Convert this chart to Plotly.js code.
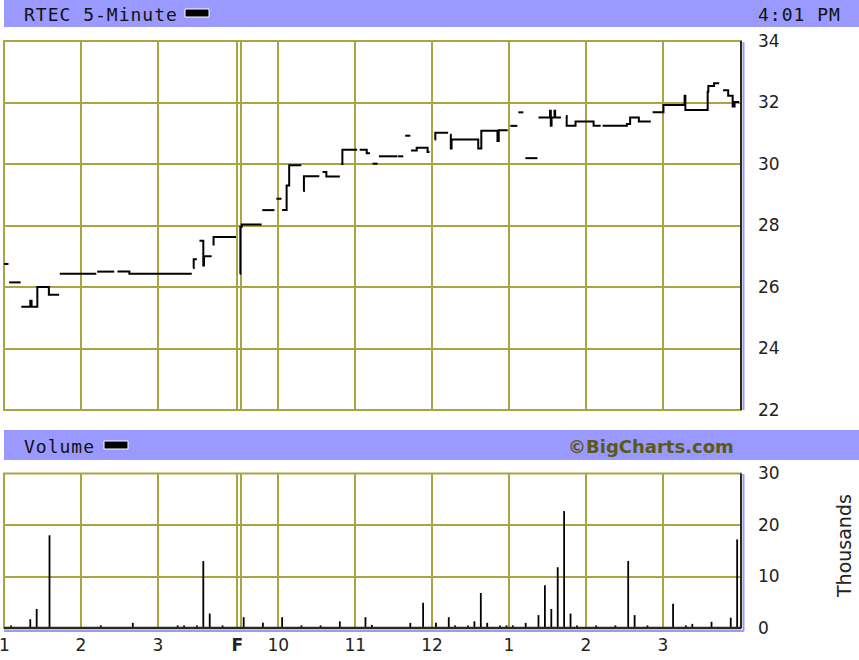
<!DOCTYPE html>
<html><head><meta charset="utf-8">
<script src="https://cdn.plot.ly/plotly-3.0.1.min.js"></script>
<style>
html,body{margin:0;padding:0;background:#fff;}
text[style*="Mono"]{letter-spacing:1px;}
</style></head><body>
<div id="chart" style="width:859px;height:660px;"></div>
<script>
// ---------- data ----------
const symbol = "RTEC";
const interval = "5-Minute";
const lastTime = "4:01 PM";
const volumeTitle = "Volume";
const brand = "©BigCharts.com";
const volUnit = "Thousands";

// session starts on the trading-minute axis (day 1 starts at 1:00 PM, day 2 = Friday 9:30 AM)
const D1 = 0, D2 = 184;
const day1Hours = [0, 60, 120];               // 1, 2, 3 PM
const day1Labels = ["1", "2", "3"];
const dayMarks = [182, 184.6];                // day separator
const dayLabel = "F";
const day2Hours = [30, 90, 150, 210, 270, 330]; // 10 .. 3
const day2Labels = ["10", "11", "12", "1", "2", "3"];

// price steps: minutes after session start, price (null = break)
const p1Time = [0,3.5,null, 4,13,null, 13.5,20.5,21.5,26,35,43,null, 43.5,72,null, 72.7,86,null,
  88.5,97.8,146.5,null, 147.5,148,150.5,null, 152.5,155.5,156,162,null, 162.7,163.5,181];
const p1Price = [26.75,26.75,null, 26.15,26.15,null, 25.36,25.55,25.36,26.0,25.75,25.75,null, 26.43,26.43,null, 26.5,26.5,null,
  26.5,26.43,26.43,null, 26.62,26.9,26.9,null, 27.5,26.7,27.0,27.0,null, 27.38,27.63,27.63];

const p2Time = [0,0.4,1.5,17,null, 17.5,27,null, 28.5,32.5,null, 33,36.5,38.5,48,null, 49.5,50,62,null,
  64.5,67.5,78,null, 79,80,91.5,null, 93.5,99,101.5,null, 103.5,107.5,null, 108.5,123,null, 123.5,127.5,null,
  129,133,null, 133.6,138,146.5,148,null, 152,152.5,162.5,null, 164,164.6,165.2,186,188.4,201,202,209,null,
  211,216.5,null, 217.3,221.2,null, 222.8,232.2,null, 233,242,242.6,243.2,245.5,246,250.5,null,
  254.5,255,260.5,261.9,275.2,276,281.5,null, 283,301,302,304.5,311.3,320.6,null,
  322,330.5,347,347.6,365,365.5,370,374,null, 377,381,384.5,386,389.5];
const p2Price = [26.43,27.96,28.03,28.03,null, 28.5,28.5,null, 28.87,28.87,null, 28.5,29.3,29.96,29.96,null, 29.12,29.6,29.6,null,
  29.74,29.59,29.59,null, 30.0,30.46,30.46,null, 30.46,30.35,30.35,null, 30.01,30.01,null, 30.25,30.25,null, 30.25,30.25,null,
  30.92,30.92,null, 30.44,30.53,30.39,30.39,null, 30.8,31.02,31.02,null, 30.95,30.5,30.8,30.5,31.08,30.75,31.1,31.1,null,
  31.24,31.24,null, 31.68,31.68,null, 30.19,30.19,null, 31.51,31.73,31.24,31.51,31.73,31.51,31.51,null,
  31.56,31.24,31.24,31.38,31.38,31.24,31.24,null, 31.24,31.24,31.3,31.51,31.38,31.38,null,
  31.68,31.92,32.22,31.76,32.35,32.54,32.63,32.63,null, 32.4,32.22,31.87,32.02,32.02];

// volume per 5-minute bar, thousands
const vol1 = [0,0.5,0,0,1.7,3.7,0,18.0,0,0, 0,0,0,0,0,0.5,0,0,0,0,
  1.0,0,0,0,0,0,0,0.5,0.5,0, 0.5,13.0,2.8,0,0.5,0];
const vol2 = [2.1,0,0,1.0,0,0,2.1,0,0,0.5, 0,0,0.5,0,0,1.3,0,0,0,2.1,
  0.6,0,0,0,0,0,1.0,0,4.9,0, 1.0,0,2.1,0.5,0,0.5,1.3,6.8,1.0,0,
  0.5,0.5,0.5,0,1.0,0,2.5,8.3,3.7,11.8, 22.7,2.8,0.5,0,0,0.5,0,0,0.5,0,
  13.0,2.5,0,0.5,0,0,0,4.7,0,0.5, 0.8,0,0,1.2,0,0,2.0,17.2];

// ---------- build ----------
const px = [].concat(p1Time.map(t => t === null ? null : D1 + t), [null], p2Time.map(t => t === null ? null : D2 + t));
const py = [].concat(p1Price, [null], p2Price);
const vx = [].concat(vol1.map((v, k) => D1 + 5 * k + 0.5), vol2.map((v, j) => D2 + 5 * j + 3));
const vy = [].concat(vol1, vol2);

const tickvals = [].concat(day1Hours.map(h => D1 + h), dayMarks, day2Hours.map(h => D2 + h));
const ticktext = [].concat(day1Labels, ["<b>" + dayLabel + "</b>", ""], day2Labels);

const L = 4, R = 741, T = 41, B = 628;
const X = p => (p - L) / (R - L);
const Y = p => (B - p) / (B - T);

const OLIVE = "#aaa544", BLUE = "#9999ff", DARK = "#2b2b10";
const mono = "DejaVu Sans Mono";
const sans = "DejaVu Sans";
const TICKFONT = { family: sans, size: 17, color: "#222" };

const xax = {
  range: [0, 575], tickvals: tickvals, ticktext: ticktext, showgrid: true, gridcolor: OLIVE, gridwidth: 2,
  zeroline: false, showline: false, ticks: "", fixedrange: true
};

const traces = [
  { x: px, y: py, type: "scatter", mode: "lines", line: { shape: "hv", color: "#000", width: 2 },
    connectgaps: false, xaxis: "x", yaxis: "y", hoverinfo: "skip" },
  { x: vx, y: vy, type: "bar", width: 1.4, marker: { color: "#000", line: { width: 0 } },
    xaxis: "x2", yaxis: "y2", hoverinfo: "skip" }
];

const layout = {
  width: 859, height: 660,
  margin: { l: L, r: 859 - R, t: T, b: 660 - B, pad: 0 },
  paper_bgcolor: "#fff", plot_bgcolor: "#fff",
  showlegend: false,
  xaxis: Object.assign({}, xax, { anchor: "y", showticklabels: false }),
  xaxis2: Object.assign({}, xax, { anchor: "y2", matches: "x", showticklabels: true,
    tickfont: TICKFONT, ticklabelstandoff: 5 }),
  yaxis: { domain: [Y(410), 1], range: [22, 34], dtick: 2, side: "right", showgrid: true, gridcolor: OLIVE,
    gridwidth: 2, zeroline: false, showline: false, ticks: "", ticklabelstandoff: 16,
    tickfont: TICKFONT, fixedrange: true },
  yaxis2: { domain: [0, Y(473.5)], range: [0, 30], dtick: 10, side: "right", showgrid: true, gridcolor: OLIVE,
    gridwidth: 2, zeroline: false, showline: false, ticks: "", ticklabelstandoff: 16,
    tickfont: TICKFONT, fixedrange: true },
  shapes: [
    // header bars
    { type: "rect", xref: "paper", yref: "paper", x0: X(4), x1: X(859), y0: Y(27), y1: Y(0), fillcolor: BLUE, line: { width: 0 } },
    { type: "rect", xref: "paper", yref: "paper", x0: X(4), x1: X(859), y0: Y(460), y1: Y(430), fillcolor: BLUE, line: { width: 0 } },
    // legend swatches
    { type: "rect", xref: "paper", yref: "paper", x0: X(185), x1: X(209), y0: Y(17), y1: Y(9), fillcolor: "#000", line: { color: "#fff", width: 1 } },
    { type: "rect", xref: "paper", yref: "paper", x0: X(104), x1: X(128), y0: Y(449), y1: Y(441), fillcolor: "#000", line: { color: "#fff", width: 1 } },
    // frames
    { type: "rect", xref: "paper", yref: "y domain", x0: 0, x1: 1, y0: 0, y1: 1, line: { color: OLIVE, width: 2 }, layer: "below" },
    { type: "rect", xref: "paper", yref: "y2 domain", x0: 0, x1: 1, y0: 0, y1: 1, line: { color: OLIVE, width: 2 }, layer: "below" },
    // dark right edges + shadow
    { type: "line", xref: "paper", yref: "y domain", x0: 1, x1: 1, y0: 0, y1: 1, line: { color: DARK, width: 2 } },
    { type: "line", xref: "paper", yref: "y2 domain", x0: 1, x1: 1, y0: 0, y1: 1, line: { color: DARK, width: 2 } },
    { type: "line", xref: "paper", yref: "paper", x0: X(743.5), x1: X(743.5), y0: Y(410), y1: Y(42), line: { color: BLUE, width: 2 } },
    { type: "line", xref: "paper", yref: "paper", x0: X(743.5), x1: X(743.5), y0: Y(631), y1: Y(474), line: { color: BLUE, width: 2 } },
    { type: "line", xref: "paper", yref: "y2 domain", x0: 0, x1: 1, y0: 0, y1: 0, line: { color: DARK, width: 2.5 } },
    { type: "line", xref: "paper", yref: "paper", x0: X(4), x1: X(744), y0: Y(631), y1: Y(631), line: { color: BLUE, width: 2 } }
  ],
  annotations: [
    { xref: "paper", yref: "paper", x: X(22), y: Y(14), xanchor: "left", yanchor: "middle", showarrow: false,
      text: symbol + " " + interval, font: { family: mono, size: 18, color: "#111" } },
    { xref: "paper", yref: "paper", x: X(843), y: Y(14), xanchor: "right", yanchor: "middle", showarrow: false,
      text: lastTime, font: { family: mono, size: 18, color: "#111" } },
    { xref: "paper", yref: "paper", x: X(22), y: Y(446), xanchor: "left", yanchor: "middle", showarrow: false,
      text: volumeTitle, font: { family: mono, size: 18, color: "#111" } },
    { xref: "paper", yref: "paper", x: X(650.5), y: Y(446), xanchor: "center", yanchor: "middle", showarrow: false,
      text: "<b>" + brand + "</b>", font: { family: sans, size: 18, color: "#5a5a12" } },
    { xref: "paper", yref: "paper", x: X(844), y: Y(546), xanchor: "center", yanchor: "middle", showarrow: false,
      text: volUnit, textangle: -90, font: { family: sans, size: 19, color: "#222" } },
    // first hour label sits on the left edge (partly cut off, as in the original)
    { xref: "x2", yref: "paper", x: D1 + day1Hours[0], y: Y(645), xanchor: "center", yanchor: "middle", showarrow: false,
      text: day1Labels[0], font: TICKFONT }
  ]
};

Plotly.newPlot("chart", traces, layout, { staticPlot: true, displayModeBar: false });
</script>
</body></html>
